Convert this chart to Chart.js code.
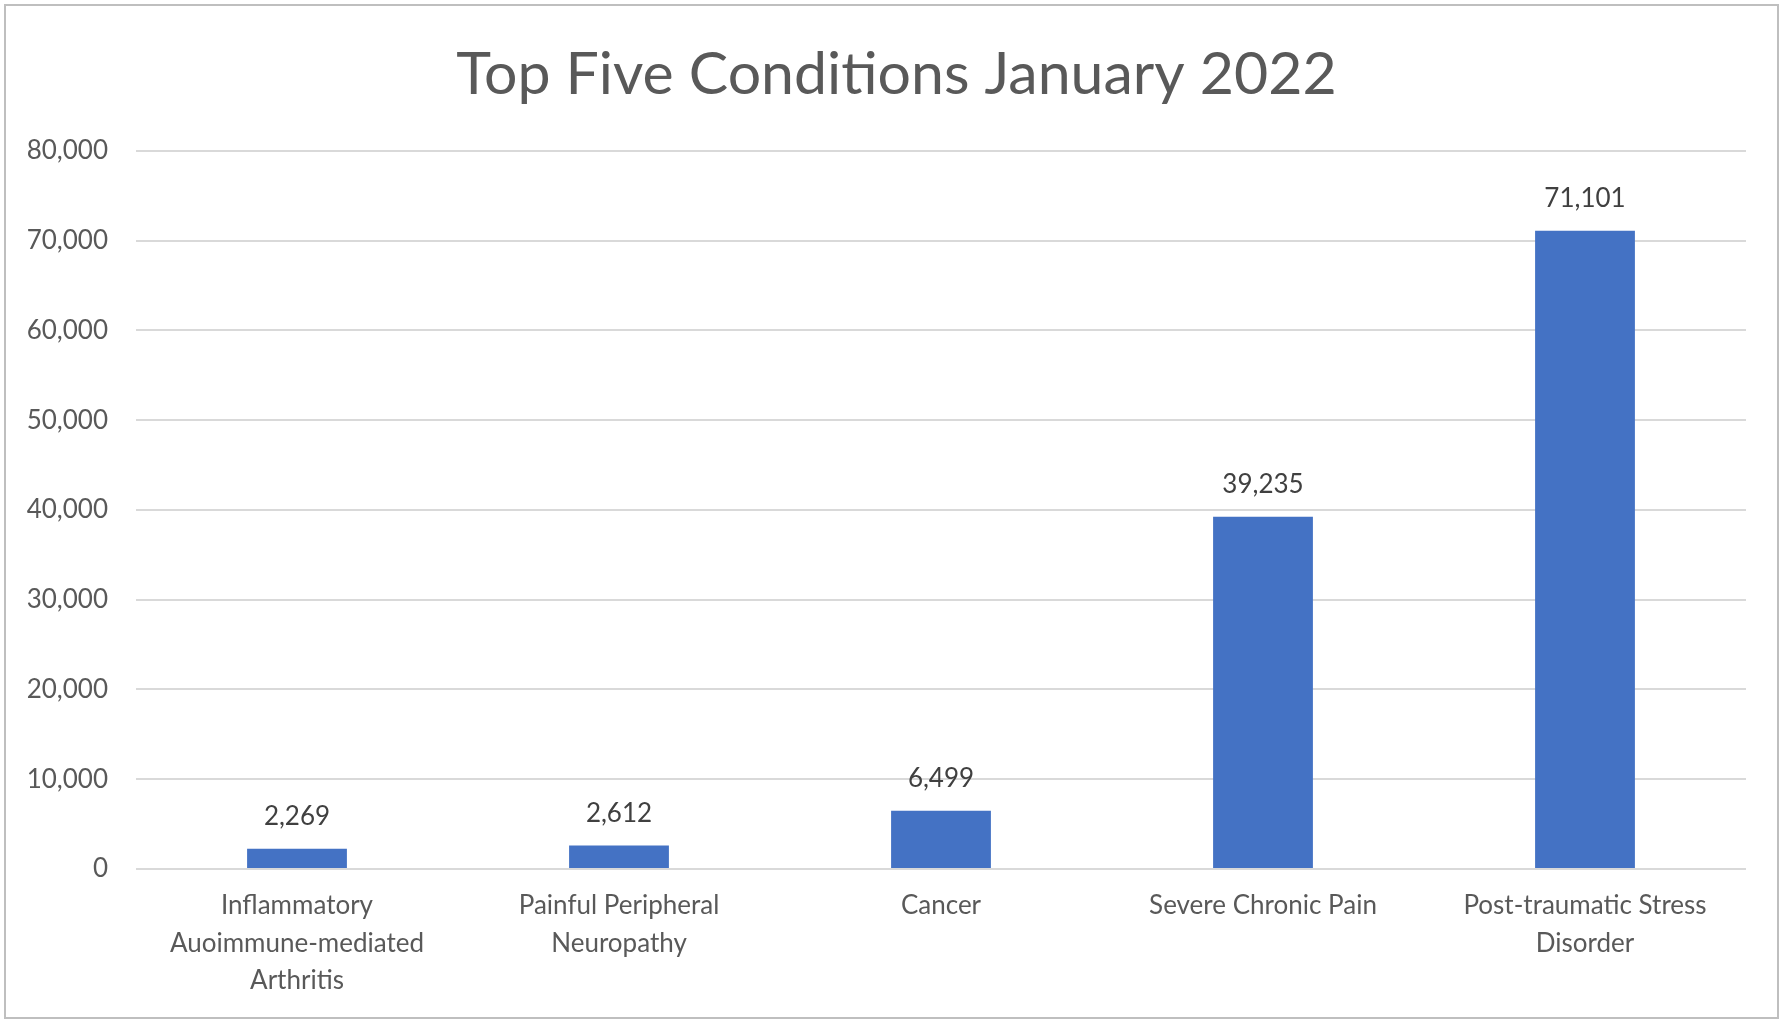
<!DOCTYPE html>
<html>
<head>
<meta charset="utf-8">
<script src="https://cdn.jsdelivr.net/npm/chart.js@4/dist/chart.umd.min.js"></script>
<style>
  html, body { margin: 0; padding: 0; background: #fff; }
  #wrap { position: relative; width: 1781px; height: 1019px; }
</style>
</head>
<body>
<div id="wrap"><canvas id="c"></canvas></div>
<script>
// data
const categories = [
  ['Inflammatory', 'Auoimmune-mediated', 'Arthritis'],
  ['Painful Peripheral', 'Neuropathy'],
  'Cancer',
  'Severe Chronic Pain',
  ['Post-traumatic Stress', 'Disorder'],
];
const patients = [2269, 2612, 6499, 39235, 71101];
const yTicks = [0, 10000, 20000, 30000, 40000, 50000, 60000, 70000, 80000];

const FONT = "Lato, 'Open Sans', sans-serif";
const fmt = v => v.toLocaleString('en-US');

// outer frame like the spreadsheet chart box
const frame = {
  id: 'frame',
  beforeDraw(chart) {
    const { ctx, width, height } = chart;
    ctx.save();
    ctx.fillStyle = '#fff';
    ctx.fillRect(0, 0, width, height);
    ctx.strokeStyle = '#bfbfbf';
    ctx.lineWidth = 2;
    ctx.strokeRect(5, 5, width - 8, height - 6);
    ctx.restore();
  },
};

// value labels above each bar
const valueLabels = {
  id: 'valueLabels',
  afterDatasetsDraw(chart) {
    const { ctx } = chart;
    const meta = chart.getDatasetMeta(0);
    ctx.save();
    ctx.font = `26px ${FONT}`;
    ctx.fillStyle = '#404040';
    ctx.textAlign = 'center';
    ctx.textBaseline = 'middle';
    meta.data.forEach((bar, i) => {
      ctx.fillText(fmt(patients[i]), bar.x, bar.y - 32);
    });
    ctx.restore();
  },
};

new Chart(document.getElementById('c'), {
  type: 'bar',
  data: {
    labels: categories,
    datasets: [{
      data: patients,
      backgroundColor: '#4472c4',
      categoryPercentage: 1,
      barPercentage: 0.31,
    }],
  },
  options: {
    responsive: true,
    maintainAspectRatio: false,
    animation: false,
    devicePixelRatio: 1,
    layout: { padding: { top: 0, right: 0, bottom: 0, left: 12 } },
    plugins: {
      legend: { display: false },
      tooltip: { enabled: false },
      title: {
        display: true,
        text: 'Top Five Conditions January 2022',
        color: '#595959',
        font: { family: FONT, size: 59, weight: 'normal', lineHeight: 1.2 },
        padding: { top: 40, bottom: 40 },
      },
    },
    scales: {
      x: {
        grid: { display: false },
        border: { display: false },
        ticks: {
          color: '#595959',
          font: { family: FONT, size: 26, lineHeight: 1.44 },
          padding: 10,
          maxRotation: 0,
          autoSkip: false,
        },
        afterFit: s => { s.height = 150; },
      },
      y: {
        min: 0,
        max: 80000,
        afterBuildTicks: s => { s.ticks = yTicks.map(v => ({ value: v })); },
        grid: { color: '#d9d9d9', lineWidth: 2, drawTicks: false },
        border: { display: false },
        ticks: {
          color: '#595959',
          font: { family: FONT, size: 26 },
          padding: 28,
          callback: v => fmt(v),
        },
        afterFit: s => { s.width = 124; },
      },
      // empty right margin so the title centres on the whole box
      yRight: {
        position: 'right',
        grid: { display: false },
        border: { display: false },
        ticks: { display: false },
        afterFit: s => { s.width = 35; },
      },
    },
  },
  plugins: [frame, valueLabels],
});
</script>
</body>
</html>
